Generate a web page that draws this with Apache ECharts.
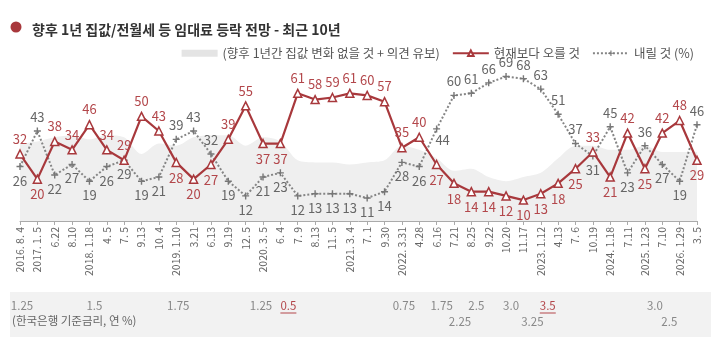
<!DOCTYPE html>
<html><head><meta charset="utf-8">
<script src="https://cdn.jsdelivr.net/npm/echarts@6/dist/echarts.min.js"></script>
<style>html,body{margin:0;padding:0;background:#fff}#c{width:720px;height:347px}</style>
</head><body><div id="c"></div>
<script>
const categories = ['2016. 8. 4','2017. 1. 5','6.22','8.10','2018. 1.18','4. 5','7. 5','9.13','10. 4','2019. 1.10','3.21','6.13','9.19','12. 5','2020. 3. 5','6. 4','7. 9','8.13','11. 5','2021. 3. 4','7. 1','9.30','2022. 3.31','4.28','6.16','7.21','8.25','9.22','10.20','11.17','2023. 1.12','4.13','7. 6','10.19','2024. 1.18','7.11','2025. 1.23','7.10','2026. 1.29','3. 5'];
const riseValues = [32,20,38,34,46,34,29,50,43,28,20,27,39,55,37,37,61,58,59,61,60,57,35,40,27,18,14,14,12,10,13,18,25,33,21,42,25,42,48,29];
const fallValues = [26,43,22,27,19,26,29,19,21,39,43,32,19,12,21,23,12,13,13,13,11,14,28,26,44,60,61,66,69,68,63,51,37,31,45,23,36,27,19,46];
const neutralValues = [37,38,40,41,39,41,40,32,37,36,40,41,41,36,40,38,29,28,28,27,28,29,36,34,30,24,25,21,19,21,23,30,36,36,34,34,36,33,33,33];
const rateRow1 = ['1.25','1.5','1.75','1.25','0.5','0.75','1.75','2.5','3.0','3.5','3.0'];
const rateRow1Cat = [0,4,9,14,15,22,24,26,28,30,36];
const rateRow1Mark = [false,false,false,false,true,false,false,false,false,true,false];
const rateRow2 = ['2.25','3.25','2.5'];
const rateRow2Cat = [25,29,37];

const titleText = '향후 1년 집값/전월세 등 임대료 등락 전망 - 최근 10년';
const neutralName = '(향후 1년간 집값 변화 없을 것 + 의견 유보)';
const riseName = '현재보다 오를 것';
const fallName = '내릴 것 (%)';
const rateCaption = '(한국은행 기준금리, 연 %)';

// label placement (t = above, b = below, r = below-right)
const risePlace = 'tbtttttttbbbttbbttttttttbbbbbbbbbtbtbttb';
const fallPlace = 'btbbbbbbbtttbbbbbbbbbbbbrttttttttbtbtbbt';
// horizontal nudges (px) of the rate texts from their category
const rateRow1Dx = [2,5,2,-2,8,2,5,5,5,7,10];
const rateRow2Dx = [6,9,7];

const FONT = '"Noto Sans CJK KR", "Noto Sans", sans-serif';
const RED = '#a8383c';
const RED_TXT = '#b3474b';
const GREY = '#858585';
const GREY_TXT = '#666';

function placeLabel(c) {
  if (c === 't') return { position: 'top' };
  if (c === 'r') return { position: 'bottom', offset: [6, -3] };
  return { position: 'bottom' };
}

const chart = echarts.init(document.getElementById('c'));
const option = {
  animation: false,
  backgroundColor: '#fff',
  title: {
    text: titleText, left: 27, top: 18,
    textStyle: { fontFamily: FONT, fontSize: 14, fontWeight: 'bold', color: '#333' }
  },
  legend: {
    top: 42, right: 21, itemGap: 12, itemWidth: 36, itemHeight: 7,
    textStyle: { fontFamily: FONT, fontSize: 12.5, color: '#555' },
    data: [
      { name: neutralName, icon: 'rect', itemStyle: { color: '#e4e4e4' } },
      { name: riseName },
      { name: fallName }
    ]
  },
  grid: { left: 20, right: 23, top: 64, bottom: 126 },
  xAxis: {
    type: 'category', data: categories, boundaryGap: false,
    axisLine: { lineStyle: { color: '#aaa' } },
    axisTick: { show: true, length: 4, interval: 0, lineStyle: { color: '#aaa' } },
    axisLabel: { interval: 0, rotate: 90, fontSize: 10.5, color: '#666', fontFamily: FONT, margin: 6 }
  },
  yAxis: { type: 'value', min: 0, max: 75, show: false, splitLine: { show: false } },
  series: [
    {
      name: neutralName, type: 'line', data: neutralValues, smooth: 0.3,
      symbol: 'none', lineStyle: { width: 0, color: '#eeeeee' },
      itemStyle: { color: '#e4e4e4' },
      areaStyle: { color: '#efefef', opacity: 1 }, z: 1
    },
    {
      name: fallName, type: 'line',
      data: fallValues.map((v, i) => ({ value: v, label: placeLabel(fallPlace[i]) })),
      symbol: 'path://M4,0H6V4H10V6H6V10H4V6H0V4H4Z', symbolSize: 7,
      lineStyle: { type: 'dotted', width: 2, color: GREY },
      itemStyle: { color: '#777' },
      label: { show: true, fontFamily: FONT, fontSize: 13, color: GREY_TXT, distance: 4 },
      z: 3
    },
    {
      name: riseName, type: 'line',
      data: riseValues.map((v, i) => ({ value: v, label: placeLabel(risePlace[i]) })),
      symbol: 'triangle', symbolSize: 8, showAllSymbol: true,
      lineStyle: { width: 2.2, color: RED },
      itemStyle: { color: '#fff', borderColor: RED, borderWidth: 1.5 },
      label: { show: true, fontFamily: FONT, fontSize: 13, color: RED_TXT, distance: 4 },
      z: 4
    }
  ]
};
chart.setOption(option);

const graphics = [
  { type: 'circle', shape: { cx: 16, cy: 27, r: 5.5 }, style: { fill: '#a8383c' } },
  { type: 'rect', shape: { x: 10, y: 292, width: 701, height: 45 }, style: { fill: '#f2f2f2' }, z: 0 },
  { type: 'text', left: 12, top: 315, style: { text: rateCaption, font: '11.5px ' + FONT, fill: '#666' } }
];
rateRow1.forEach((t, i) => {
  const x = chart.convertToPixel({ xAxisIndex: 0 }, rateRow1Cat[i]) + rateRow1Dx[i];
  const col = rateRow1Mark[i] ? RED_TXT : '#888';
  graphics.push({ type: 'text', x: x, y: 306, style: { text: t, font: '11.5px ' + FONT, fill: col, align: 'center', verticalAlign: 'middle' } });
  if (rateRow1Mark[i]) {
    graphics.push({ type: 'line', shape: { x1: x - 8, y1: 313, x2: x + 8, y2: 313 }, style: { stroke: RED_TXT, lineWidth: 1 } });
  }
});
rateRow2.forEach((t, i) => {
  const x = chart.convertToPixel({ xAxisIndex: 0 }, rateRow2Cat[i]) + rateRow2Dx[i];
  graphics.push({ type: 'text', x: x, y: 322, style: { text: t, font: '11.5px ' + FONT, fill: '#888', align: 'center', verticalAlign: 'middle' } });
});
chart.setOption({ graphic: graphics });
</script></body></html>
